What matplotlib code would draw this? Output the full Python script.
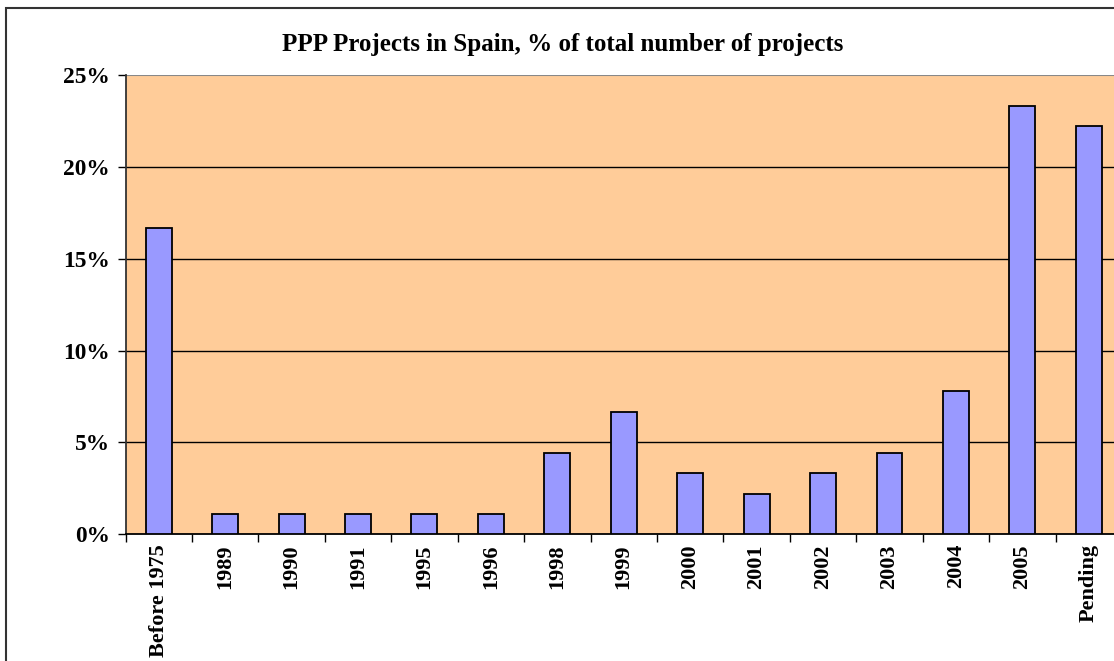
import matplotlib
matplotlib.use("Agg")
import matplotlib.pyplot as plt
from matplotlib.patches import Rectangle
from matplotlib.ticker import FuncFormatter
import numpy as np

categories = ["Before 1975", "1989", "1990", "1991", "1995", "1996", "1998", "1999",
              "2000", "2001", "2002", "2003", "2004", "2005", "Pending"]
shares = [16.67, 1.11, 1.11, 1.11, 1.11, 1.11, 4.44, 6.67,
          3.33, 2.22, 3.33, 4.44, 7.78, 23.33, 22.22]
yticks = [0, 5, 10, 15, 20, 25]
title = "PPP Projects in Spain, % of total number of projects"

plt.rcParams['font.family'] = ['Liberation Serif', 'DejaVu Serif']
plt.rcParams['font.weight'] = 'bold'

W, H = 1114, 661
fig = plt.figure(figsize=(W / 100, H / 100), dpi=100)
fig.patch.set_facecolor('white')

# outer chart border
fig.patches.append(Rectangle((5.5 / W, -0.1), 1.2, 1 - 7.5 / H + 0.1,
                             transform=fig.transFigure, fill=False,
                             edgecolor='#333333', linewidth=1.5))

left, right = 125.5 / W, 1122 / W
bottom, top = 1 - 534.3 / H, 1 - 75.3 / H
ax = fig.add_axes([left, bottom, right - left, top - bottom])
ax.set_facecolor('#FFCC99')

x = np.arange(len(categories))
ax.bar(x, shares, width=0.39, color='#9999FF', edgecolor='black', linewidth=1.3, zorder=3)

ax.set_xlim(-0.5, len(categories) - 0.5)
ax.set_ylim(0, 25)
ax.set_yticks(yticks)
ax.yaxis.set_major_formatter(FuncFormatter(lambda v, p: f"{int(v)}%"))
ax.tick_params(axis='y', length=6, width=1, direction='out', labelsize=16.8, pad=5)
for lab in ax.get_yticklabels():
    lab.set_fontweight('bold')

ax.set_xticks(np.arange(-0.5, len(categories), 1.0))
ax.set_xticklabels([])
ax.tick_params(axis='x', which='major', length=6, width=1, direction='out')
ax.set_xticks(x, minor=True)
ax.set_xticklabels(categories, minor=True, rotation=90, fontsize=16, fontweight='bold')
ax.tick_params(axis='x', which='minor', length=0, pad=7)

for yv in yticks[1:-1]:
    ax.axhline(yv, color='black', linewidth=1, zorder=1)
ax.axhline(25, color='#888888', linewidth=1.5, zorder=1)

for s in ['top', 'right']:
    ax.spines[s].set_visible(False)
ax.spines['left'].set_color('#333333')
ax.spines['left'].set_linewidth(1.3)
ax.spines['bottom'].set_color('black')
ax.spines['bottom'].set_linewidth(1.3)

fig.text(563 / W, 1 - 44 / H, title, ha='center', va='center', fontsize=18, fontweight='bold')

fig.savefig("out.png", dpi=100)
